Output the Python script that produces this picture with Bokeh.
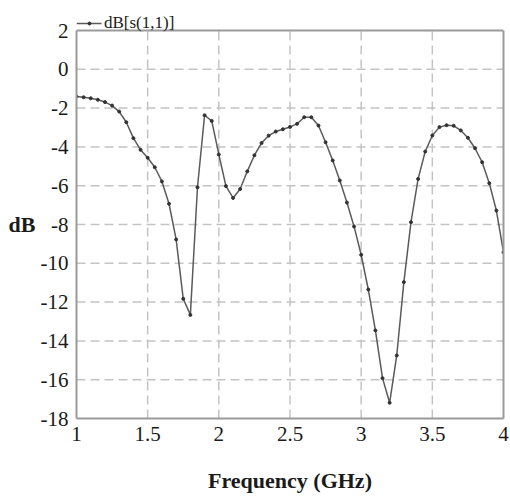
from bokeh.plotting import figure
from bokeh.models import Range1d, FixedTicker, LinearAxis
from bokeh.core.properties import value
from bokeh.embed import file_html
from bokeh.resources import INLINE

freq_ghz = [1.00, 1.05, 1.10, 1.15, 1.20, 1.25, 1.30, 1.35, 1.40, 1.45,
            1.50, 1.55, 1.60, 1.65, 1.70, 1.75, 1.80, 1.85, 1.90, 1.95,
            2.00, 2.05, 2.10, 2.15, 2.20, 2.25, 2.30, 2.35, 2.40, 2.45,
            2.50, 2.55, 2.60, 2.65, 2.70, 2.75, 2.80, 2.85, 2.90, 2.95,
            3.00, 3.05, 3.10, 3.15, 3.20, 3.25, 3.30, 3.35, 3.40, 3.45,
            3.50, 3.55, 3.60, 3.65, 3.70, 3.75, 3.80, 3.85, 3.90, 3.95,
            4.00]
s11_db = [-1.40, -1.44, -1.49, -1.57, -1.69, -1.87, -2.18, -2.73, -3.55, -4.15,
          -4.56, -5.05, -5.78, -6.93, -8.77, -11.83, -12.66, -6.08, -2.37, -2.66,
          -4.39, -6.02, -6.63, -6.17, -5.26, -4.43, -3.80, -3.42, -3.21, -3.09,
          -2.97, -2.81, -2.47, -2.47, -2.90, -3.76, -4.70, -5.73, -6.87, -8.10,
          -9.56, -11.35, -13.46, -15.92, -17.19, -14.75, -10.97, -7.88, -5.65, -4.24,
          -3.41, -2.98, -2.88, -2.91, -3.15, -3.53, -4.07, -4.79, -5.87, -7.28,
          -9.43]

x_ticks = [1, 1.5, 2, 2.5, 3, 3.5, 4]
x_tick_labels = ["1", "1.5", "2", "2.5", "3", "3.5", "4"]
y_ticks = [2, 0, -2, -4, -6, -8, -10, -12, -14, -16, -18]
y_tick_labels = ["2", "0", "-2", "-4", "-6", "-8", "-10", "-12", "-14", "-16", "-18"]

series_name = "dB[s(1,1)]"
x_title = "Frequency (GHz)"
y_title = "dB"

FONT = "Liberation Serif"
LINE_COLOR = "#5a5a5a"
DOT_COLOR = "#333333"
FRAME_COLOR = "#9a9a9a"
GRID_COLOR = "#c4c4c4"

x_min, x_max = x_ticks[0], x_ticks[-1]
y_min, y_max = y_ticks[-1], y_ticks[0]
px_per_db = 19.4
px_per_ghz = 427 / (x_max - x_min)
top_room_px = 30  # space above the plot box for the legend line
y_top = y_max + top_room_px / px_per_db

p = figure(width=510, height=497, output_backend="svg", toolbar_location=None,
           x_range=Range1d(x_min, x_max), y_range=Range1d(y_min, y_top),
           min_border_left=76, min_border_right=7, min_border_top=0,
           min_border_bottom=79)

p.background_fill_color = "white"
p.border_fill_color = "white"
p.outline_line_color = None
p.grid.visible = False

for ax in (p.xaxis[0], p.yaxis[0]):
    ax.axis_line_color = FRAME_COLOR
    ax.axis_line_width = 2
    ax.major_tick_line_color = None
    ax.minor_tick_line_color = None
    ax.major_label_text_font = FONT
    ax.major_label_text_font_size = "21px"
    ax.major_label_text_color = "#1a1a1a"
    ax.axis_label_text_font = FONT
    ax.axis_label_text_font_style = "bold"
    ax.axis_label_text_font_size = "22px"
    ax.axis_label_text_color = "#1a1a1a"

p.xaxis.ticker = FixedTicker(ticks=x_ticks)
p.xaxis.major_label_overrides = {t: l for t, l in zip(x_ticks, x_tick_labels)}
p.xaxis.major_label_standoff = 2
p.xaxis.axis_label = x_title
p.xaxis.axis_label_standoff = 24

p.yaxis.ticker = FixedTicker(ticks=y_ticks)
p.yaxis.bounds = (y_min, y_max)
p.yaxis.major_label_overrides = {t: l for t, l in zip(y_ticks, y_tick_labels)}
p.yaxis.major_label_standoff = 2
p.yaxis.axis_label = "\n" + y_title
p.yaxis.axis_label_orientation = "horizontal"
p.yaxis.axis_label_standoff = 2

right_ax = LinearAxis(ticker=FixedTicker(ticks=[]), bounds=(y_min, y_max),
                      axis_line_color=FRAME_COLOR, axis_line_width=2,
                      major_tick_line_color=None, minor_tick_line_color=None,
                      major_label_standoff=0, major_label_text_font_size="0px")
p.add_layout(right_ax, "right")

# dashed grid inside the plot box
inner_x = x_ticks[1:-1]
inner_y = y_ticks[1:-1]
p.segment(x0=inner_x, x1=inner_x, y0=[y_min] * len(inner_x), y1=[y_max] * len(inner_x),
          line_color=GRID_COLOR, line_width=1.5, line_dash="9 5")
p.segment(x0=[x_min] * len(inner_y), x1=[x_max] * len(inner_y), y0=inner_y, y1=inner_y,
          line_color=GRID_COLOR, line_width=1.5, line_dash="9 5")
# top edge of the plot box
p.segment(x0=[x_min], x1=[x_max], y0=[y_max], y1=[y_max],
          line_color=FRAME_COLOR, line_width=2)

p.line(freq_ghz, s11_db, line_color=LINE_COLOR, line_width=1.5)
p.scatter(freq_ghz, s11_db, size=3, fill_color=DOT_COLOR, line_color=DOT_COLOR)

# legend entry above the box (positions in pixels converted to data units)
leg_y = y_max + 7 / px_per_db
leg_x0 = x_min
leg_x1 = x_min + 25 / px_per_ghz
leg_xm = x_min + 13 / px_per_ghz
p.segment(x0=[leg_x0], x1=[leg_x1], y0=[leg_y], y1=[leg_y],
          line_color=LINE_COLOR, line_width=1.5)
p.scatter([leg_xm], [leg_y], size=3, fill_color=DOT_COLOR, line_color=DOT_COLOR)
p.text(x=[x_min + 27.5 / px_per_ghz], y=[y_max + 8 / px_per_db], text=[series_name],
       text_font=value(FONT), text_font_size="17px", text_color="#1a1a1a",
       text_baseline="alphabetic", text_align="left")

open("out.html", "w").write(file_html(p, INLINE))
